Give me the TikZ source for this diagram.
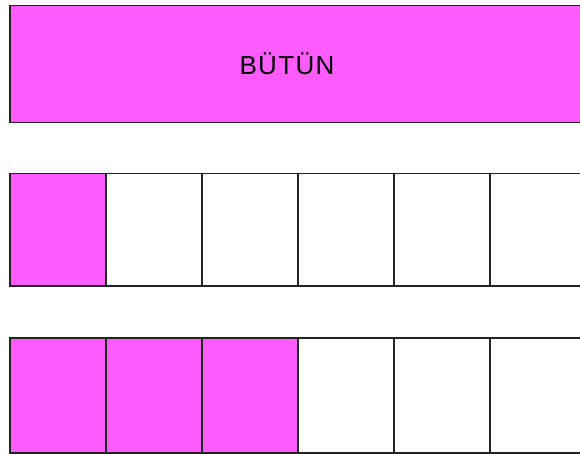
\documentclass[tikz,border=0pt]{standalone}
\usepackage{fontspec}
\setmainfont{Liberation Sans}
\usepackage{xcolor}
\usepackage{tikz}
\usetikzlibrary{positioning}
\definecolor{partPink}{HTML}{FF5CFF}
\definecolor{edgeDark}{HTML}{222222}

\begin{document}
\begin{tikzpicture}[x=1pt, y=-1pt,
                    part/.style={rectangle, draw=edgeDark, line width=1.5pt,
                        minimum width=96pt, inner sep=0pt, fill=white},
                    filled/.style={fill=partPink}]
      \clip (0,0) rectangle (580,454);
      \useasboundingbox (0,0) rectangle (580,454);
      \node[part, filled, minimum width=600pt, minimum height=117pt, anchor=north west] (whole) at (9,5) {};
      \node[font=\fontsize{26}{30}\selectfont\addfontfeature{LetterSpace=5}] (label) at (287,64) {BÜTÜN};
      \foreach \i in {0,...,5}
        { \node[part, minimum height=112pt, anchor=north west] (a\i) at (9+\i*96, 173) {}; }
      \node[part, filled, minimum height=112pt, anchor=north west] at (a0.north west) {};
      \foreach \i in {0,...,5}
        { \node[part, minimum height=115pt, anchor=north west] (b\i) at (9+\i*96, 337) {}; }
      \foreach \i in {0,1,2}
        { \node[part, filled, minimum height=115pt, anchor=north west] at (b\i.north west) {}; }
    \end{tikzpicture}
\end{document}
